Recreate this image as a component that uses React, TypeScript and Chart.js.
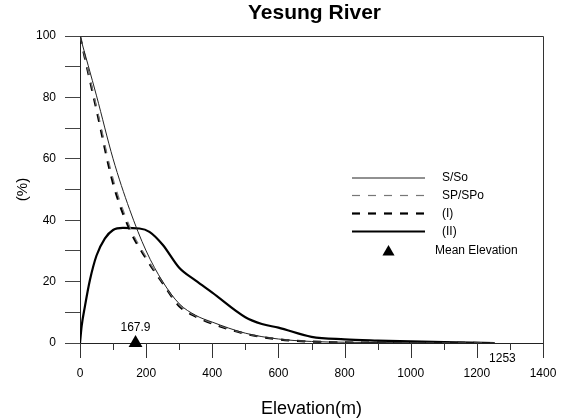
import React, { useEffect, useRef } from 'react';
import { Chart, registerables } from 'chart.js';

Chart.register(...registerables);

// ---- Data ----
const elevCurves = [0, 50, 100, 150, 200, 250, 300, 350, 400, 500, 600, 700, 800, 1000, 1253];
const sRatio = [100, 80.5, 60, 43.5, 30, 20, 12.8, 9, 6.8, 3.2, 1.3, 0.5, 0.25, 0.08, 0];
const spRatio = [100, 77, 53.5, 38, 28, 19.8, 12.4, 8.8, 6.5, 3.1, 1.3, 0.5, 0.25, 0.08, 0];
const iRatio = [100, 76, 52, 37, 27.5, 19.5, 12, 8.6, 6.3, 3, 1.2, 0.45, 0.2, 0.05, 0];
const elevII = [0, 5, 15, 30, 50, 75, 100, 130, 180, 210, 250, 300, 350, 400, 500, 550, 600, 700, 800, 900, 1000, 1100, 1253];
const iiRatio = [0, 5.5, 12, 20.5, 28.5, 34, 36.8, 37.5, 37.3, 36.2, 32, 24.5, 20.3, 16.4, 8.4, 6.2, 5, 2, 1.2, 0.8, 0.5, 0.3, 0];
const meanElevation = 167.9;
const maxElevation = 1253;
const seriesNames = ['S/So', 'SP/SPo', '(I)', '(II)', 'Mean Elevation'];
const chartTitle = 'Yesung River';
const xTitle = 'Elevation(m)';
const yTitle = '(%)';

const FONT = '"Liberation Sans", Arial, sans-serif';

const toXY = (xs: number[], ys: number[]) => xs.map((x, i) => ({ x, y: ys[i] }));

const decorPlugin = {
  id: 'decor',
  afterDatasetsDraw(chart: any) {
    const { ctx, chartArea } = chart;
    const xs = chart.scales.x;
    const ys = chart.scales.y;
    const { left, right, top, bottom } = chartArea;
    ctx.save();
    // title centred over the plot area
    ctx.fillStyle = '#000';
    ctx.font = `bold 21px ${FONT}`;
    ctx.textAlign = 'center';
    ctx.textBaseline = 'middle';
    ctx.fillText(chartTitle, (left + right) / 2 + 3, 13);
    // frame top & right
    ctx.strokeStyle = '#333';
    ctx.lineWidth = 1;
    ctx.beginPath();
    ctx.moveTo(Math.round(left) + 0.5, Math.round(top) + 0.5);
    ctx.lineTo(Math.round(right) + 0.5, Math.round(top) + 0.5);
    ctx.lineTo(Math.round(right) + 0.5, Math.round(bottom) + 0.5);
    ctx.stroke();
    // x ticks: major every 200, minor every 100
    ctx.strokeStyle = '#333';
    for (let v = 0; v <= 1400; v += 100) {
      const px = Math.round(xs.getPixelForValue(v)) + 0.5;
      const len = v % 200 === 0 ? 15 : 7;
      ctx.beginPath();
      ctx.moveTo(px, bottom);
      ctx.lineTo(px, bottom + len);
      ctx.stroke();
    }
    // annotations
    ctx.fillStyle = '#000';
    ctx.font = `12px ${FONT}`;
    ctx.textAlign = 'center';
    ctx.textBaseline = 'middle';
    ctx.fillText(meanElevation.toFixed(1), xs.getPixelForValue(meanElevation), ys.getPixelForValue(0) - 15);
    ctx.fillText(String(maxElevation), xs.getPixelForValue(maxElevation) + 8, bottom + 16);

    // legend
    const lx0 = 352, lx1 = 425, tx = 442;
    const rows = [178, 195.5, 213.5, 231.5];
    const styles = [
      { color: '#222', width: 1, dash: [] as number[] },
      { color: '#777', width: 1.2, dash: [8, 8] },
      { color: '#000', width: 2.2, dash: [8, 8] },
      { color: '#000', width: 2.2, dash: [] as number[] },
    ];
    ctx.textAlign = 'left';
    ctx.font = `12px ${FONT}`;
    rows.forEach((y, i) => {
      const s = styles[i];
      ctx.strokeStyle = s.color;
      ctx.lineWidth = s.width;
      ctx.setLineDash(s.dash);
      ctx.beginPath();
      ctx.moveTo(lx0, y);
      ctx.lineTo(lx1, y);
      ctx.stroke();
      ctx.setLineDash([]);
      ctx.fillStyle = '#000';
      ctx.fillText(seriesNames[i], tx, y);
    });
    // triangle legend
    const cx = 388.5, cy = 252, r = 7;
    ctx.fillStyle = '#000';
    ctx.beginPath();
    ctx.moveTo(cx, cy - r);
    ctx.lineTo(cx + r * 0.866, cy + r / 2);
    ctx.lineTo(cx - r * 0.866, cy + r / 2);
    ctx.closePath();
    ctx.fill();
    ctx.fillText(seriesNames[4], 435, 251);
    ctx.restore();
  },
};

export default function App() {
  const ref = useRef<HTMLCanvasElement>(null);
  useEffect(() => {
    document.body.style.margin = '0';
    const chart = new Chart(ref.current!, {
      type: 'line',
      data: {
        datasets: [
          {
            label: seriesNames[0],
            data: toXY(elevCurves, sRatio),
            borderColor: '#222',
            borderWidth: 1,
            pointRadius: 0,
            cubicInterpolationMode: 'monotone',
            fill: false,
          },
          {
            label: seriesNames[1],
            data: toXY(elevCurves, spRatio),
            borderColor: '#777',
            borderWidth: 1.2,
            borderDash: [8, 8],
            pointRadius: 0,
            cubicInterpolationMode: 'monotone',
            fill: false,
          },
          {
            label: seriesNames[2],
            data: toXY(elevCurves, iRatio),
            borderColor: '#000',
            borderWidth: 2.2,
            borderDash: [8, 8],
            pointRadius: 0,
            cubicInterpolationMode: 'monotone',
            fill: false,
          },
          {
            label: seriesNames[3],
            data: toXY(elevII, iiRatio),
            borderColor: '#000',
            borderWidth: 2.2,
            pointRadius: 0,
            cubicInterpolationMode: 'monotone',
            fill: false,
          },
          {
            label: seriesNames[4],
            data: [{ x: meanElevation, y: 0 }],
            showLine: false,
            pointStyle: 'triangle',
            pointRadius: 8,
            backgroundColor: '#000',
            borderColor: '#000',
            borderWidth: 0,
            clip: false as any,
          },
        ],
      },
      options: {
        responsive: false,
        animation: false,
        devicePixelRatio: 1,
        layout: { padding: { left: 0, right: 20, top: 36, bottom: 0 } },
        plugins: {
          legend: { display: false },
          tooltip: { enabled: false },
          title: { display: false },
        },
        scales: {
          x: {
            type: 'linear',
            min: 0,
            max: 1400,
            ticks: {
              stepSize: 100,
              autoSkip: false,
              maxRotation: 0,
              padding: 23,
              color: '#000',
              font: { family: FONT, size: 12 },
              callback: (v: any) => (Number(v) % 200 === 0 ? String(v) : ''),
            },
            grid: { display: false, drawTicks: false },
            border: { display: true, color: '#222', width: 1 },
            title: {
              display: true,
              text: xTitle,
              color: '#000',
              font: { family: FONT, size: 18 },
              padding: { top: 0, bottom: 0 },
            },
            afterFit: (s: any) => { s.height = 77; s.paddingLeft = 0; s.paddingRight = 0; },
          },
          y: {
            type: 'linear',
            min: 0,
            max: 100,
            ticks: {
              stepSize: 10,
              autoSkip: false,
              padding: 9,
              color: '#000',
              font: { family: FONT, size: 12 },
              callback: (v: any) => (Number(v) % 20 === 0 ? String(v) : ''),
            },
            grid: { display: true, drawOnChartArea: false, drawTicks: true, tickLength: 15, color: '#444' },
            border: { display: true, color: '#222', width: 1 },
            title: {
              display: true,
              text: yTitle,
              color: '#000',
              font: { family: FONT, size: 15 },
              padding: { top: 14, bottom: 0 },
            },
            afterFit: (s: any) => { s.width = 80; },
          },
        },
      },
      plugins: [decorPlugin],
    } as any);
    return () => chart.destroy();
  }, []);
  return (
    <div style={{ width: 563, height: 420 }}>
      <canvas ref={ref} width={563} height={420} />
    </div>
  );
}
